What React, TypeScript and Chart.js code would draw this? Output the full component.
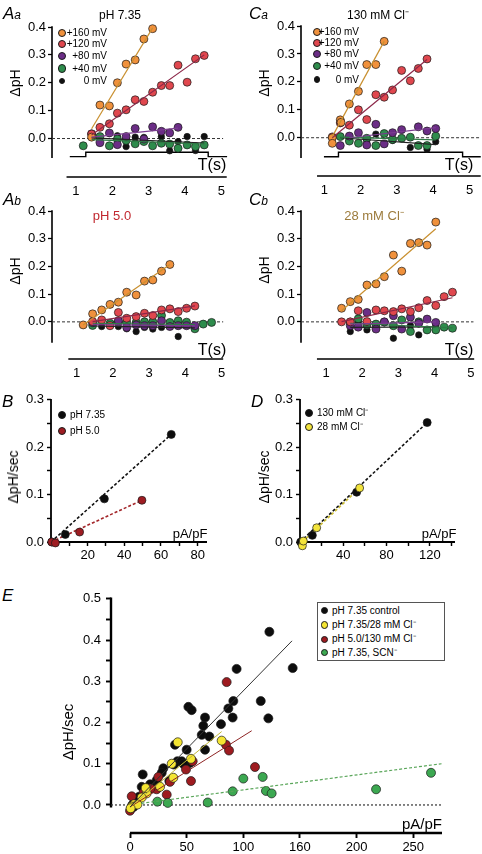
import React, { useEffect, useRef } from 'react';
import { Chart, registerables } from 'chart.js';
Chart.register(...registerables);

const FONT = '"Liberation Sans", Arial, Helvetica, sans-serif';

// ---------- colours ----------
const C_OR = '#f0913c', C_RD = '#e0474e', C_PU = '#6b2d86', C_GR = '#2e8c4c', C_BK = '#111111';
const L_OR = '#c99030', L_RD = '#8c2748', L_PU = '#7b3d90', L_GR = '#2f7a45', L_BK = '#222222';

// ---------- tick arrays ----------
const tTicks = [1, 2, 3, 4, 5];
const tTickLabels = ['1', '2', '3', '4', '5'];
const aTicksY = [0, 0.1, 0.2, 0.3, 0.4];
const aTickLabelsY = ['0.0', '0.1', '0.2', '0.3', '0.4'];
const bdTicksY = [0, 0.05, 0.1, 0.15, 0.2, 0.25, 0.3];
const bdTickLabelsY = ['0.0', '', '0.1', '', '0.2', '', '0.3'];
const bTicksX = [10, 20, 30, 40, 50, 60, 70, 80];
const bTickLabelsX = ['', '20', '', '40', '', '60', '', '80'];
const dTicksX = [20, 40, 60, 80, 100, 120, 140];
const dTickLabelsX = ['', '40', '', '80', '', '120', ''];
const eTicksY = [0, 0.05, 0.1, 0.15, 0.2, 0.25, 0.3, 0.35, 0.4, 0.45, 0.5];
const eTickLabelsY = ['0.0', '', '0.1', '', '0.2', '', '0.3', '', '0.4', '', '0.5'];
const eTicksX = [0, 50, 100, 150, 200, 250];
const eTickLabelsX = ['0', '50', '100', '160', '200', '250'];

// ---------- Aa : pH 7.35 ----------
const aaT160 = [1.43, 1.66, 1.92, 2.14, 2.38, 2.63, 2.87, 3.11];
const aaY160 = [0.005, 0.12, 0.117, 0.2, 0.267, 0.282, 0.357, 0.394];
const aaT120 = [1.43, 1.66, 1.92, 2.14, 2.38, 2.63, 2.87, 3.11, 3.35, 3.58, 3.81, 4.06, 4.29, 4.53];
const aaY120 = [0.016, 0.04, 0.053, 0.091, 0.103, 0.139, 0.133, 0.166, 0.19, 0.19, 0.263, 0.202, 0.286, 0.298];
const aaT80 = [1.43, 1.66, 1.92, 2.14, 2.38, 2.63, 2.87, 3.11, 3.35, 3.58, 3.81];
const aaY80 = [0.017, -0.015, 0.02, -0.022, 0.007, 0.036, -0.002, 0.042, 0.026, 0.02, 0.04];
const aaT40 = [1.2, 1.66, 1.92, 2.14, 2.38, 2.63, 2.87, 3.11, 3.35, 3.58, 3.81, 4.06, 4.29, 4.53];
const aaY40 = [-0.026, 0.007, -0.026, -0.002, -0.007, -0.019, -0.011, -0.026, -0.017, -0.02, -0.035, -0.023, -0.029, -0.023];
const aaT0 = [1.66, 2.14, 2.38, 2.63, 2.87, 3.35, 3.58, 3.81, 4.06, 4.29, 4.53];
const aaY0 = [0.0, 0.01, -0.029, 0.005, 0.004, 0.007, -0.044, -0.011, 0.007, -0.043, 0.007];
const aaFitT160 = [1.43, 3.11], aaFit160 = [0.035, 0.397];
const aaFitT120 = [1.43, 4.53], aaFit120 = [0.013, 0.3];
const aaFitT80 = [1.43, 3.81], aaFit80 = [0.005, 0.037];
const aaFitT40 = [1.43, 4.53], aaFit40 = [-0.004, -0.02];
const aaFitT0 = [1.43, 4.53], aaFit0 = [0.002, -0.016];
const aaStimT = [0.83, 1.27, 1.27, 4.64, 4.64, 5.16];
const aaStimY = [-0.065, -0.065, -0.049, -0.049, -0.065, -0.065];
const aaZeroT = [0.34, 5.05], aaZeroY = [0, 0];

// ---------- Ca : 130 mM Cl- ----------
const caT160 = [1.22, 1.22, 1.44, 1.46, 1.69, 1.94, 2.17, 2.42, 2.65];
const caY160 = [0.0, -0.02, 0.064, 0.055, 0.121, 0.166, 0.262, 0.262, 0.345];
const caT120 = [1.22, 1.44, 1.69, 1.94, 2.17, 2.42, 2.65, 2.88, 3.13, 3.37, 3.59, 3.83];
const caY120 = [0.003, 0.053, 0.045, 0.1, 0.065, 0.154, 0.145, 0.171, 0.241, 0.204, 0.248, 0.282];
const caT80 = [1.44, 1.69, 1.94, 2.17, 2.42, 2.65, 2.88, 3.13, 3.59, 3.83, 4.07];
const caY80 = [-0.028, 0.006, 0.018, -0.026, 0.048, -0.022, 0.018, 0.029, 0.039, 0.024, 0.033];
const caT40 = [1.44, 1.69, 1.94, 2.17, 2.42, 2.65, 2.88, 3.13, 3.37, 3.59, 3.83, 4.07];
const caY40 = [0.004, -0.012, -0.02, -0.002, -0.028, 0.015, -0.006, -0.002, 0.002, -0.028, -0.028, 0.006];
const caT0 = [1.69, 2.17, 2.42, 2.88, 3.37, 3.83, 4.07];
const caY0 = [-0.004, -0.01, 0.013, -0.01, -0.035, -0.041, -0.014];
const caFitT160 = [1.22, 2.65], caFit160 = [0.004, 0.345];
const caFitT120 = [1.22, 3.83], caFit120 = [0.0, 0.28];
const caFitT80 = [1.69, 4.07], caFit80 = [0.0, 0.036];
const caFitT40 = [1.44, 4.07], caFit40 = [0.002, -0.008];
const caFitT0 = [1.44, 4.07], caFit0 = [0.0, -0.025];
const caStimT = [0.99, 1.39, 1.39, 4.81, 4.81, 5.31];
const caStimY = [-0.068, -0.068, -0.052, -0.052, -0.068, -0.068];
const caZeroT = [0.36, 5.31], caZeroY = [0, 0];

// ---------- Ab : pH 5.0 ----------
const abT160 = [1.18, 1.44, 1.69, 1.92, 2.15, 2.38, 2.64, 2.87, 3.1, 3.34, 3.57];
const abY160 = [-0.011, 0.029, 0.043, 0.063, 0.071, 0.107, 0.097, 0.147, 0.151, 0.183, 0.207];
const abT120 = [1.44, 1.69, 1.92, 2.15, 2.38, 2.64, 2.87, 3.1, 3.34, 3.57, 3.8, 4.03, 4.26];
const abY120 = [0.001, 0.007, -0.014, 0.034, 0.013, 0.019, 0.031, 0.023, 0.043, 0.047, 0.037, 0.049, 0.057];
const abT80 = [1.44, 2.15, 2.38, 2.64, 2.87, 3.1, 3.34, 3.57, 3.8, 4.03, 4.26];
const abY80 = [-0.003, 0.004, -0.02, -0.011, -0.014, -0.014, 0.004, -0.017, -0.014, -0.014, -0.014];
const abT40 = [1.44, 1.92, 2.15, 2.38, 2.64, 2.87, 3.1, 3.34, 3.57, 3.8, 4.03, 4.26, 4.49, 4.72];
const abY40 = [-0.013, -0.005, 0.0, -0.002, -0.002, 0.0, 0.0, 0.023, -0.002, 0.004, -0.001, -0.025, -0.008, -0.002];
const abT0 = [1.69, 1.92, 2.15, 2.38, 2.64, 2.87, 3.1, 3.34, 3.57, 3.8];
const abY0 = [-0.017, -0.013, -0.017, -0.025, -0.035, -0.02, -0.026, -0.02, -0.005, -0.053];
const abFitT160 = [1.18, 3.57], abFit160 = [-0.011, 0.207];
const abFitT120 = [1.44, 4.26], abFit120 = [0.001, 0.058];
const abFitT80 = [1.44, 4.26], abFit80 = [-0.01, -0.014];
const abFitT40 = [1.44, 4.26], abFit40 = [-0.005, -0.01];
const abFitT0 = [1.44, 4.26], abFit0 = [-0.015, -0.022];
const abZeroT = [0.32, 5.04], abZeroY = [0, 0];

// ---------- Cb : 28 mM Cl- ----------
const cbT160 = [1.43, 1.67, 1.89, 2.13, 2.38, 2.61, 2.86, 3.09, 3.33, 3.56, 3.79, 4.03];
const cbY160 = [0.049, 0.073, 0.081, 0.133, 0.137, 0.163, 0.241, 0.183, 0.283, 0.286, 0.277, 0.36];
const cbT120 = [1.43, 1.67, 1.89, 2.13, 2.38, 2.61, 2.86, 3.09, 3.33, 3.56, 3.79, 4.03, 4.26, 4.49];
const cbY120 = [0.0, 0.0, 0.04, 0.001, 0.043, 0.04, 0.037, 0.047, 0.037, 0.051, 0.077, 0.059, 0.091, 0.107];
const cbT80 = [1.67, 1.89, 2.13, 2.38, 2.61, 2.86, 3.09, 3.33, 3.56, 3.79, 4.03];
const cbY80 = [-0.014, -0.019, 0.034, -0.026, 0.0, 0.022, -0.026, 0.017, -0.005, 0.01, -0.002];
const cbT40 = [1.67, 1.89, 2.13, 2.38, 2.61, 2.86, 3.09, 3.33, 3.56, 3.79, 4.03, 4.26, 4.49];
const cbY40 = [-0.001, 0.011, -0.011, -0.008, -0.001, -0.014, 0.007, -0.035, 0.0, -0.029, -0.029, -0.019, -0.023];
const cbT0 = [1.67, 1.89, 2.13, 2.38, 2.86, 3.33, 3.56, 4.03];
const cbY0 = [-0.035, -0.002, -0.029, -0.013, -0.059, -0.013, -0.047, -0.013];
const cbFitT160 = [1.43, 4.03], cbFit160 = [0.04, 0.336];
const cbFitT120 = [1.43, 4.49], cbFit120 = [0.001, 0.087];
const cbFitT80 = [1.67, 4.03], cbFit80 = [-0.008, 0.0];
const cbFitT40 = [1.67, 4.49], cbFit40 = [-0.005, -0.022];
const cbFitT0 = [1.67, 4.03], cbFit0 = [-0.02, -0.018];
const cbZeroT = [0.31, 5.07], cbZeroY = [0, 0];

// ---------- B ----------
const bBlackX = [0.5, 7.8, 29.1, 65.6];
const bBlackY = [0.0, 0.016, 0.091, 0.227];
const bRedX = [0.4, 2.4, 15.6, 49.6];
const bRedY = [0.0, -0.002, 0.021, 0.088];
const bFitBlackX = [0, 65.6], bFitBlackY = [0, 0.227];
const bFitRedX = [0, 49.6], bFitRedY = [0, 0.088];

// ---------- D ----------
const dBlackX = [0.6, 11.4, 52.3, 117.5];
const dBlackY = [0.0, 0.014, 0.105, 0.252];
const dYellowX = [2.2, 3.1, 15.4, 55.1];
const dYellowY = [-0.008, 0.002, 0.03, 0.114];
const dFitBlackX = [0, 117.5], dFitBlackY = [0, 0.252];
const dFitYellowX = [2, 55.1], dFitYellowY = [0.0, 0.114];

// ---------- E ----------
const eBlackX = [123, 143.6, 94.1, 115.4, 122.1, 91.2, 90.6, 86.8, 80.3, 51.5, 54.4, 66.2, 64.7, 63.3, 70, 66.2, 50, 41.8, 38.8, 29.4, 28, 34.7, 23.5, 11.2, 10.3, 17.7, 39.7, 45.6, 53, 2, 4, 6, 3, 8, 13, 20, 47];
const eBlackY = [0.42, 0.332, 0.33, 0.252, 0.21, 0.252, 0.212, 0.234, 0.196, 0.238, 0.23, 0.212, 0.192, 0.17, 0.166, 0.134, 0.134, 0.106, 0.098, 0.089, 0.078, 0.058, 0.06, 0.074, 0.044, 0.05, 0.146, 0.106, 0.102, 0.0, 0.005, 0.01, -0.005, 0.02, 0.03, 0.04, 0.1];
const eYellowX = [42.1, 36.8, 38.2, 53.8, 80.9, 26.5, 14.7, 13.8, 10.3, 3.8, 1.5, 6.5, 0.5];
const eYellowY = [0.152, 0.1, 0.066, 0.112, 0.156, 0.044, 0.028, 0.041, 0.018, 0.002, -0.004, 0.001, -0.008];
const eRedX = [85.3, 84.7, 87.4, 49.4, 53.8, 55.3, 32.4, 25, 23.5, 35.3, 1.5, 0, 1, 110.3, 12, 18];
const eRedY = [0.298, 0.146, 0.132, 0.086, 0.058, 0.106, 0.025, 0.068, 0.038, 0.056, 0.021, -0.014, -0.008, 0.092, 0.03, 0.04];
const eGreenX = [24.1, 33.3, 68.6, 90.6, 100, 117.1, 120, 125, 217.2, 265.7];
const eGreenY = [0.008, 0.005, 0.006, 0.033, 0.064, 0.068, 0.034, 0.028, 0.038, 0.078];
const eFitBlackX = [0, 143], eFitBlackY = [-0.005, 0.398];
const eFitYellowX = [0, 80.9], eFitYellowY = [-0.005, 0.178];
const eFitRedX = [0, 107.4], eFitRedY = [-0.005, 0.18];
const eFitGreenX = [10, 275], eFitGreenY = [0.004, 0.1];
const eZeroX = [-16.8, 275], eZeroY = [0, 0];

// ---------- helpers ----------
const pts = (xs: number[], ys: number[]) => xs.map((x, i) => ({ x, y: ys[i] }));
const dots = (xs: number[], ys: number[], color: string, r: number, order = 1) => ({
  data: pts(xs, ys), backgroundColor: color, borderColor: '#1a1a1a', borderWidth: 0.7,
  pointRadius: r, pointHoverRadius: r, showLine: false, order, clip: false,
});
const line = (xs: number[], ys: number[], color: string, width: number, dash: number[] = [], order = 0) => ({
  data: pts(xs, ys), borderColor: color, backgroundColor: color, borderWidth: width, borderDash: dash,
  pointRadius: 0, pointHoverRadius: 0, showLine: true, fill: false, tension: 0, order, clip: false,
});

const axisLinesPlugin = {
  id: 'axisLines',
  beforeDatasetsDraw(chart: any, _args: any, opts: any) {
    const { ctx, chartArea } = chart;
    const x = chart.scales.x, y = chart.scales.y;
    ctx.save();
    ctx.strokeStyle = '#000';
    ctx.lineWidth = opts.width;
    ctx.beginPath();
    ctx.moveTo(chartArea.left, y.getPixelForValue(opts.yFrom) - opts.width / 2);
    ctx.lineTo(chartArea.left, y.getPixelForValue(opts.yTo));
    ctx.moveTo(x.getPixelForValue(opts.xFrom), chartArea.bottom);
    ctx.lineTo(x.getPixelForValue(opts.xTo), chartArea.bottom);
    ctx.stroke();
    ctx.restore();
  },
};

const YW = 45, XH = 24, PT = 10, PR = 12, PB = 2;

function PanelChart({ spec }: { spec: any }) {
  const ref = useRef<HTMLCanvasElement>(null);
  const a = spec.area;
  const left = a.l - YW, top = a.t - PT;
  const width = a.r - a.l + YW + PR, height = a.b - a.t + PT + XH + PB;
  useEffect(() => {
    const sx = spec.x, sy = spec.y;
    const chart = new Chart(ref.current as HTMLCanvasElement, {
      type: 'scatter',
      data: { datasets: spec.datasets },
      options: {
        responsive: false, animation: false, devicePixelRatio: 1, events: [],
        layout: { padding: { left: 0, top: PT, right: PR, bottom: PB } },
        plugins: { legend: { display: false }, tooltip: { enabled: false }, axisLines: spec.axis },
        scales: {
          x: {
            type: 'linear', min: sx.min, max: sx.max,
            afterBuildTicks: (ax: any) => { ax.ticks = sx.ticks.map((v: number) => ({ value: v })); },
            afterFit: (s: any) => { s.height = XH; },
            border: { display: false },
            grid: { display: sx.marks, drawOnChartArea: false, drawTicks: sx.marks, tickLength: sx.tickLen, tickColor: '#000', tickWidth: spec.axis.width * 0.8 },
            ticks: { autoSkip: false, maxRotation: 0, minRotation: 0, padding: sx.pad, color: '#000', font: { family: FONT, size: 13 },
              callback: (_v: any, i: number) => sx.labels[i] },
          },
          y: {
            type: 'linear', min: sy.min, max: sy.max,
            afterBuildTicks: (ax: any) => { ax.ticks = sy.ticks.map((v: number) => ({ value: v })); },
            afterFit: (s: any) => { s.width = YW; },
            border: { display: false },
            grid: { display: true, drawOnChartArea: false, drawTicks: true, tickLength: sy.tickLen, tickColor: '#000', tickWidth: spec.axis.width * 0.8 },
            ticks: { autoSkip: false, padding: sy.pad, color: '#000', font: { family: FONT, size: 13 },
              callback: (_v: any, i: number) => sy.labels[i] },
          },
        },
      } as any,
      plugins: [axisLinesPlugin as any],
    });
    return () => chart.destroy();
  }, []);
  return (
    <canvas ref={ref} width={width} height={height}
      style={{ position: 'absolute', left, top, width, height }} />
  );
}

const timeX = (min: number, max: number) => ({ min, max, ticks: tTicks, labels: tTickLabels, marks: false, tickLen: 0, pad: 7 });
const phY = (min: number) => ({ min, max: 0.4, ticks: aTicksY, labels: aTickLabelsY, tickLen: 4, pad: 2 });

const mvSets = (d: any, stim?: any) => {
  const s: any[] = [
    line(d.zt, d.zy, '#333', 1, [3, 2], 3),
    line(d.f160t, d.f160, L_OR, 1.2), line(d.f120t, d.f120, L_RD, 1.2), line(d.f80t, d.f80, L_PU, 1.2),
    line(d.f40t, d.f40, L_GR, 1.2), line(d.f0t, d.f0, L_BK, 1.2),
    dots(d.t160, d.y160, C_OR, 4), dots(d.t120, d.y120, C_RD, 4), dots(d.t80, d.y80, C_PU, 4),
    dots(d.t40, d.y40, C_GR, 4), dots(d.t0, d.y0, C_BK, 3.2),
  ];
  if (stim) s.push(line(stim.t, stim.y, '#000', 1.4, [], 3));
  return s;
};

const specAa = {
  area: { l: 52, t: 27, r: 230, b: 177 },
  x: timeX(0.34, 5.24), y: phY(-0.138),
  axis: { yFrom: 0.4, yTo: -0.07, xFrom: 0.74, xTo: 5.15, width: 1.6 },
  datasets: mvSets({ zt: aaZeroT, zy: aaZeroY, f160t: aaFitT160, f160: aaFit160, f120t: aaFitT120, f120: aaFit120,
    f80t: aaFitT80, f80: aaFit80, f40t: aaFitT40, f40: aaFit40, f0t: aaFitT0, f0: aaFit0,
    t160: aaT160, y160: aaY160, t120: aaT120, y120: aaY120, t80: aaT80, y80: aaY80, t40: aaT40, y40: aaY40, t0: aaT0, y0: aaY0 },
    { t: aaStimT, y: aaStimY }),
};
const specCa = {
  area: { l: 301, t: 26, r: 481, b: 176 },
  x: timeX(0.358, 5.317), y: phY(-0.137),
  axis: { yFrom: 0.4, yTo: -0.073, xFrom: 0.8, xTo: 5.31, width: 1.6 },
  datasets: mvSets({ zt: caZeroT, zy: caZeroY, f160t: caFitT160, f160: caFit160, f120t: caFitT120, f120: caFit120,
    f80t: caFitT80, f80: caFit80, f40t: caFitT40, f40: caFit40, f0t: caFitT0, f0: caFit0,
    t160: caT160, y160: caY160, t120: caT120, y120: caY120, t80: caT80, y80: caY80, t40: caT40, y40: caY40, t0: caT0, y0: caY0 },
    { t: caStimT, y: caStimY }),
};
const specAb = {
  area: { l: 52, t: 211, r: 225, b: 359 },
  x: timeX(0.32, 5.09), y: phY(-0.134),
  axis: { yFrom: 0.4, yTo: -0.075, xFrom: 0.77, xTo: 5.04, width: 1.6 },
  datasets: mvSets({ zt: abZeroT, zy: abZeroY, f160t: abFitT160, f160: abFit160, f120t: abFitT120, f120: abFit120,
    f80t: abFitT80, f80: abFit80, f40t: abFitT40, f40: abFit40, f0t: abFitT0, f0: abFit0,
    t160: abT160, y160: abY160, t120: abT120, y120: abY120, t80: abT80, y80: abY80, t40: abT40, y40: abY40, t0: abT0, y0: abY0 }),
};
const specCb = {
  area: { l: 301, t: 211, r: 476, b: 359 },
  x: timeX(0.31, 5.14), y: phY(-0.134),
  axis: { yFrom: 0.4, yTo: -0.075, xFrom: 0.75, xTo: 5.09, width: 1.6 },
  datasets: mvSets({ zt: cbZeroT, zy: cbZeroY, f160t: cbFitT160, f160: cbFit160, f120t: cbFitT120, f120: cbFit120,
    f80t: cbFitT80, f80: cbFit80, f40t: cbFitT40, f40: cbFit40, f0t: cbFitT0, f0: cbFit0,
    t160: cbT160, y160: cbY160, t120: cbT120, y120: cbY120, t80: cbT80, y80: cbY80, t40: cbT40, y40: cbY40, t0: cbT0, y0: cbY0 }),
};
const specB = {
  area: { l: 51, t: 399, r: 207, b: 542 },
  x: { min: 0, max: 85.1, ticks: bTicksX, labels: bTickLabelsX, marks: true, tickLen: 4, pad: 2 },
  y: { min: 0, max: 0.3, ticks: bdTicksY, labels: bdTickLabelsY, tickLen: 4, pad: 3 },
  axis: { yFrom: 0.3, yTo: 0, xFrom: 0, xTo: 85.1, width: 1.8 },
  datasets: [
    line(bFitBlackX, bFitBlackY, '#111', 1.6, [3, 2], 2),
    line(bFitRedX, bFitRedY, '#a3262a', 1.6, [3, 2], 2),
    dots(bBlackX, bBlackY, '#0d0d0d', 4, 1),
    dots(bRedX, bRedY, '#9e1c22', 4, 0),
  ],
};
const specD = {
  area: { l: 300, t: 399, r: 455, b: 542 },
  x: { min: 0, max: 143.2, ticks: dTicksX, labels: dTickLabelsX, marks: true, tickLen: 4, pad: 2 },
  y: { min: 0, max: 0.3, ticks: bdTicksY, labels: bdTickLabelsY, tickLen: 4, pad: 3 },
  axis: { yFrom: 0.3, yTo: 0, xFrom: 0, xTo: 143.2, width: 1.8 },
  datasets: [
    line(dFitBlackX, dFitBlackY, '#111', 1.6, [3, 2], 2),
    line(dFitYellowX, dFitYellowY, '#cfc03a', 1.8, [3, 2], 2),
    dots(dBlackX, dBlackY, '#0d0d0d', 4, 1),
    dots(dYellowX, dYellowY, '#f3e43c', 4, 0),
  ],
};
const specE = {
  area: { l: 111, t: 596, r: 442, b: 833 },
  x: { min: -16.8, max: 275.4, ticks: eTicksX, labels: eTickLabelsX, marks: true, tickLen: 5, pad: 2 },
  y: { min: -0.068, max: 0.5, ticks: eTicksY, labels: eTickLabelsY, tickLen: 5, pad: 5 },
  axis: { yFrom: 0.5, yTo: -0.006, xFrom: 0, xTo: 275.4, width: 2.4 },
  datasets: [
    line(eZeroX, eZeroY, '#333', 1.2, [2, 2], 6),
    line(eFitBlackX, eFitBlackY, '#333', 1, [], 0),
    line(eFitYellowX, eFitYellowY, '#c2b83a', 1, [], 0),
    line(eFitRedX, eFitRedY, '#8e2424', 1, [], 0),
    line(eFitGreenX, eFitGreenY, '#5aa65a', 1.2, [3, 2], 0),
    dots(eGreenX, eGreenY, '#3ca851', 4.5, 1),
    dots(eYellowX, eYellowY, '#f4e533', 4.5, 2),
    dots(eRedX, eRedY, '#9e1b20', 4.5, 3),
    dots(eBlackX, eBlackY, '#0d0d0d', 4.5, 4),
  ],
};

// ---------- HTML text helpers ----------
const Txt = ({ x, y, children, size = 13, anchor = 'c', color = '#000', rot = false, italic = false }: any) => {
  const tx = anchor === 'l' ? '0' : anchor === 'r' ? '-100%' : '-50%';
  return (
    <div style={{
      position: 'absolute', left: x, top: y, whiteSpace: 'nowrap', lineHeight: 1, fontSize: size, color,
      fontStyle: italic ? 'italic' : 'normal', fontFamily: FONT,
      transform: `translate(${tx},-50%)` + (rot ? ' rotate(-90deg)' : ''),
    }}>{children}</div>
  );
};
const PanelLabel = ({ x, y, big, small }: any) => (
  <div style={{ position: 'absolute', left: x, top: y, transform: 'translate(0,-50%)', display: 'flex', alignItems: 'baseline', fontStyle: 'italic', fontFamily: FONT, lineHeight: 1 }}>
    <span style={{ fontSize: 17 }}>{big}</span>
    {small ? <span style={{ fontSize: 12 }}>{small}</span> : null}
  </div>
);
const Dot = ({ x, y, r, color }: any) => (
  <div style={{ position: 'absolute', left: x - r, top: y - r, width: 2 * r, height: 2 * r, borderRadius: '50%', background: color, border: '0.7px solid #1a1a1a', boxSizing: 'border-box' }} />
);

const mvLegend = ['+160 mV', '+120 mV', '+80 mV', '+40 mV', '0 mV'];
const mvColors = [C_OR, C_RD, C_PU, C_GR, C_BK];

export default function App() {
  const aRows = [33.3, 44.3, 55.7, 68.5, 81];
  const cRows = [32.3, 43.3, 54.3, 65.7, 79.5];
  return (
    <div style={{ position: 'absolute', left: 0, top: 0, width: 482, height: 854, overflow: 'hidden', background: '#fff', fontFamily: FONT }}>
      <PanelChart spec={specAa} />
      <PanelChart spec={specCa} />
      <PanelChart spec={specAb} />
      <PanelChart spec={specCb} />
      <PanelChart spec={specB} />
      <PanelChart spec={specD} />
      <PanelChart spec={specE} />

      <PanelLabel x={3} y={12.5} big="A" small="a" />
      <PanelLabel x={249} y={12.5} big="C" small="a" />
      <PanelLabel x={3} y={198.5} big="A" small="b" />
      <PanelLabel x={249} y={198.5} big="C" small="b" />
      <PanelLabel x={2} y={401} big="B" />
      <PanelLabel x={251} y={401} big="D" />
      <PanelLabel x={2} y={595} big="E" />

      <Txt x={120} y={15} size={12}>pH 7.35</Txt>
      <Txt x={378} y={15} size={12}>130 mM Cl⁻</Txt>
      <Txt x={112} y={215} size={13} color="#c1282f">pH 5.0</Txt>
      <Txt x={374} y={215} size={13} color="#9c7b3c">28 mM Cl⁻</Txt>

      <Txt x={15} y={83} size={14} rot>ΔpH</Txt>
      <Txt x={264} y={83} size={14} rot>ΔpH</Txt>
      <Txt x={15} y={271} size={14} rot>ΔpH</Txt>
      <Txt x={264} y={270} size={14} rot>ΔpH</Txt>
      <Txt x={13} y={477} size={14} rot>ΔpH/sec</Txt>
      <Txt x={264} y={477} size={14} rot>ΔpH/sec</Txt>
      <Txt x={67} y={732} size={15} rot>ΔpH/sec</Txt>

      <Txt x={212} y={165} size={16}>T(s)</Txt>
      <Txt x={459} y={165} size={16}>T(s)</Txt>
      <Txt x={212} y={350} size={16}>T(s)</Txt>
      <Txt x={459} y={350} size={16}>T(s)</Txt>
      <Txt x={190} y={533} size={13}>pA/pF</Txt>
      <Txt x={439} y={533} size={13}>pA/pF</Txt>
      <Txt x={422} y={823} size={15}>pA/pF</Txt>

      {mvLegend.map((t, i) => (
        <React.Fragment key={'a' + i}>
          <Dot x={62} y={aRows[i]} r={i === 4 ? 3.3 : 4.2} color={mvColors[i]} />
          <Txt x={107} y={aRows[i]} size={10} anchor="r">{t}</Txt>
          <Dot x={317} y={cRows[i]} r={i === 4 ? 3.3 : 4.2} color={mvColors[i]} />
          <Txt x={359} y={cRows[i]} size={10} anchor="r">{t}</Txt>
        </React.Fragment>
      ))}

      <Dot x={62} y={415} r={4} color="#0d0d0d" />
      <Txt x={70} y={415} size={10} anchor="l">pH 7.35</Txt>
      <Dot x={62} y={431} r={4} color="#9e1c22" />
      <Txt x={70} y={431} size={10} anchor="l">pH 5.0</Txt>

      <Dot x={309} y={413} r={4} color="#0d0d0d" />
      <Txt x={317} y={413} size={10} anchor="l">130 mM Cl⁻</Txt>
      <Dot x={309} y={427} r={4} color="#f3e43c" />
      <Txt x={317} y={427} size={10} anchor="l">28 mM Cl⁻</Txt>

      <div style={{ position: 'absolute', left: 317, top: 602, width: 128, height: 59, border: '1px solid #555', boxSizing: 'border-box', background: '#fff' }} />
      <Dot x={324.5} y={610.7} r={3.6} color="#0d0d0d" />
      <Txt x={332} y={610.7} size={10} anchor="l">pH 7.35 control</Txt>
      <Dot x={324.5} y={625} r={3.6} color="#f4e533" />
      <Txt x={332} y={625} size={10} anchor="l">pH 7.35/28 mM Cl⁻</Txt>
      <Dot x={324.5} y={639.3} r={3.6} color="#9e1b20" />
      <Txt x={332} y={639.3} size={10} anchor="l">pH 5.0/130 mM Cl⁻</Txt>
      <Dot x={324.5} y={652.7} r={3.6} color="#3ca851" />
      <Txt x={332} y={652.7} size={10} anchor="l">pH 7.35, SCN⁻</Txt>
    </div>
  );
}
